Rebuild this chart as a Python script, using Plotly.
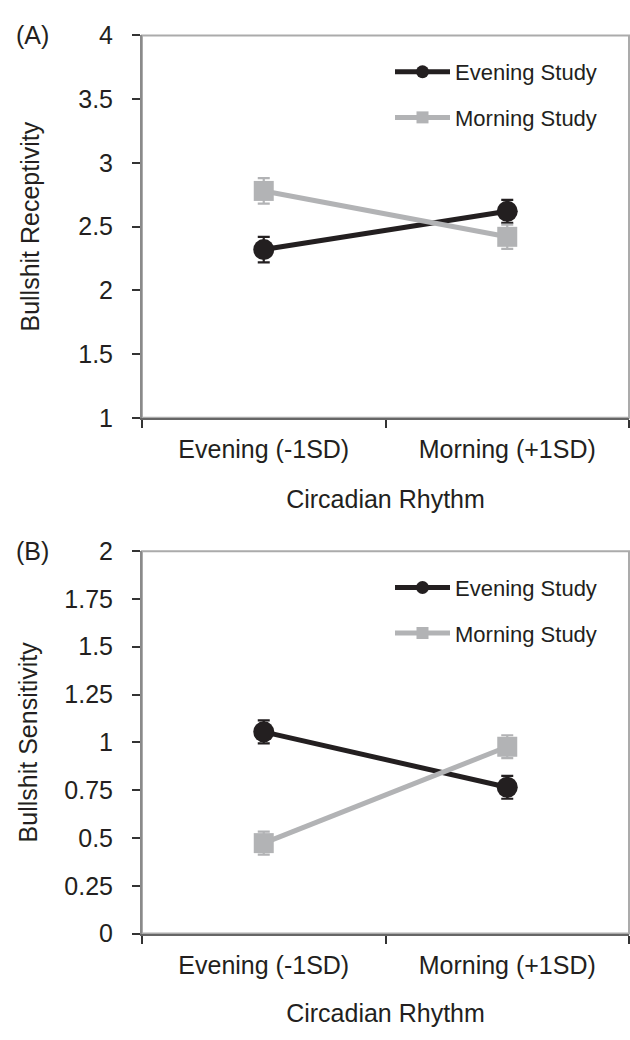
import plotly.graph_objects as go

# ---------------- data ----------------
categories = ["Evening (-1SD)", "Morning (+1SD)"]

recept_evening_study = [2.32, 2.62]
recept_evening_err = [0.10, 0.09]
recept_morning_study = [2.78, 2.42]
recept_morning_err = [0.10, 0.095]

sens_evening_study = [1.055, 0.765]
sens_evening_err = [0.06, 0.06]
sens_morning_study = [0.473, 0.977]
sens_morning_err = [0.06, 0.06]

recept_ticks = [1, 1.5, 2, 2.5, 3, 3.5, 4]
recept_ticktext = ["1", "1.5", "2", "2.5", "3", "3.5", "4"]
sens_ticks = [0, 0.25, 0.5, 0.75, 1, 1.25, 1.5, 1.75, 2]
sens_ticktext = ["0", "0.25", "0.5", "0.75", "1", "1.25", "1.5", "1.75", "2"]

series_names = ["Evening Study", "Morning Study"]

# ---------------- style ----------------
BLACK = "#231f20"
GRAY = "#b2b3b5"
FONT = "Liberation Sans, Arial, sans-serif"
W, H = 630, 1040
FS = 25

fig = go.Figure()


def add_panel(xa, ya, legend, ev, ev_err, mo, mo_err):
    fig.add_trace(go.Scatter(
        x=categories, y=ev, xaxis=xa, yaxis=ya, mode="lines+markers",
        line=dict(color=BLACK, width=5),
        marker=dict(symbol="circle", size=21, color=BLACK),
        error_y=dict(type="data", array=ev_err, color=BLACK, thickness=2.2, width=6),
        showlegend=False, cliponaxis=False))
    fig.add_trace(go.Scatter(
        x=categories, y=mo, xaxis=xa, yaxis=ya, mode="lines+markers",
        line=dict(color=GRAY, width=5),
        marker=dict(symbol="square", size=20, color=GRAY),
        error_y=dict(type="data", array=mo_err, color=GRAY, thickness=2.2, width=6),
        showlegend=False, cliponaxis=False))
    # legend entries
    fig.add_trace(go.Scatter(
        x=[None], y=[None], xaxis=xa, yaxis=ya, mode="lines+markers",
        name=series_names[0], legend=legend, legendgroup=legend + "a",
        line=dict(color=BLACK, width=5),
        marker=dict(symbol="circle", size=13, color=BLACK)))
    fig.add_trace(go.Scatter(
        x=[None], y=[None], xaxis=xa, yaxis=ya, mode="lines+markers",
        name=series_names[1], legend=legend, legendgroup=legend + "b",
        line=dict(color=GRAY, width=5),
        marker=dict(symbol="square", size=12, color=GRAY)))


add_panel("x", "y", "legend", recept_evening_study, recept_evening_err,
          recept_morning_study, recept_morning_err)
add_panel("x2", "y2", "legend2", sens_evening_study, sens_evening_err,
          sens_morning_study, sens_morning_err)

x_dom = [142 / W, 629 / W]
yA = [1 - 415 / H, 1 - 22 / H]
yB = [1 - 945 / H, 1 - 552 / H]

xaxis_common = dict(
    type="category", categoryorder="array", categoryarray=categories,
    range=[-0.5, 1.5], tickson="boundaries", ticks="outside", ticklen=8,
    tickwidth=1.5, tickcolor="#333333", showline=True, linecolor="#666666",
    linewidth=2, showgrid=False, zeroline=False, domain=x_dom,
    tickfont=dict(family=FONT, size=FS, color=BLACK), ticklabelstandoff=8,
)
yaxis_common = dict(
    ticks="outside", ticklen=8, tickwidth=1.5, tickcolor="#333333",
    showline=True, linecolor="#8a8a8a", linewidth=2, showgrid=False,
    zeroline=False, tickfont=dict(family=FONT, size=FS, color=BLACK),
    ticklabelstandoff=14,
)

fig.update_layout(
    width=W, height=H,
    margin=dict(l=0, r=0, t=0, b=0),
    paper_bgcolor="white", plot_bgcolor="white",
    font=dict(family=FONT, color=BLACK),
    xaxis=dict(**xaxis_common, anchor="y",
               title=dict(text="Circadian Rhythm", standoff=29,
                          font=dict(family=FONT, size=FS, color=BLACK))),
    xaxis2=dict(**xaxis_common, anchor="y2",
                title=dict(text="Circadian Rhythm", standoff=27,
                           font=dict(family=FONT, size=FS, color=BLACK))),
    yaxis=dict(**yaxis_common, domain=yA, anchor="x", range=[1, 4],
               tickvals=recept_ticks, ticktext=recept_ticktext,
               title=dict(text="Bullshit Receptivity", standoff=31,
                          font=dict(family=FONT, size=FS, color=BLACK))),
    yaxis2=dict(**yaxis_common, domain=yB, anchor="x2", range=[0, 2],
                tickvals=sens_ticks, ticktext=sens_ticktext,
                title=dict(text="Bullshit Sensitivity", standoff=20,
                           font=dict(family=FONT, size=FS, color=BLACK))),
    legend=dict(x=390 / W, xanchor="left", y=1 - 38 / H, yanchor="top",
                itemwidth=55, tracegroupgap=14, bgcolor="rgba(0,0,0,0)",
                font=dict(family=FONT, size=22, color=BLACK)),
    legend2=dict(x=390 / W, xanchor="left", y=1 - 568 / H, yanchor="top",
                 itemwidth=55, tracegroupgap=14, bgcolor="rgba(0,0,0,0)",
                 font=dict(family=FONT, size=22, color=BLACK)),
    annotations=[
        dict(text="(A)", xref="paper", yref="paper", x=14 / W, y=1 - 22 / H,
             xanchor="left", yanchor="middle", showarrow=False,
             font=dict(family=FONT, size=25, color=BLACK)),
        dict(text="(B)", xref="paper", yref="paper", x=14 / W, y=1 - 552 / H,
             xanchor="left", yanchor="middle", showarrow=False,
             font=dict(family=FONT, size=25, color=BLACK)),
    ],
    shapes=[
        dict(type="rect", xref="x domain", yref="y domain", x0=0, x1=1, y0=0, y1=1,
             line=dict(color="#ababab", width=2), layer="below"),
        dict(type="rect", xref="x2 domain", yref="y2 domain", x0=0, x1=1, y0=0, y1=1,
             line=dict(color="#ababab", width=2), layer="below"),
    ],
)

fig.write_html(
    "out.html",
    config={"displayModeBar": False},
    post_script="document.body.style.margin='0';document.body.style.padding='0';",
)
